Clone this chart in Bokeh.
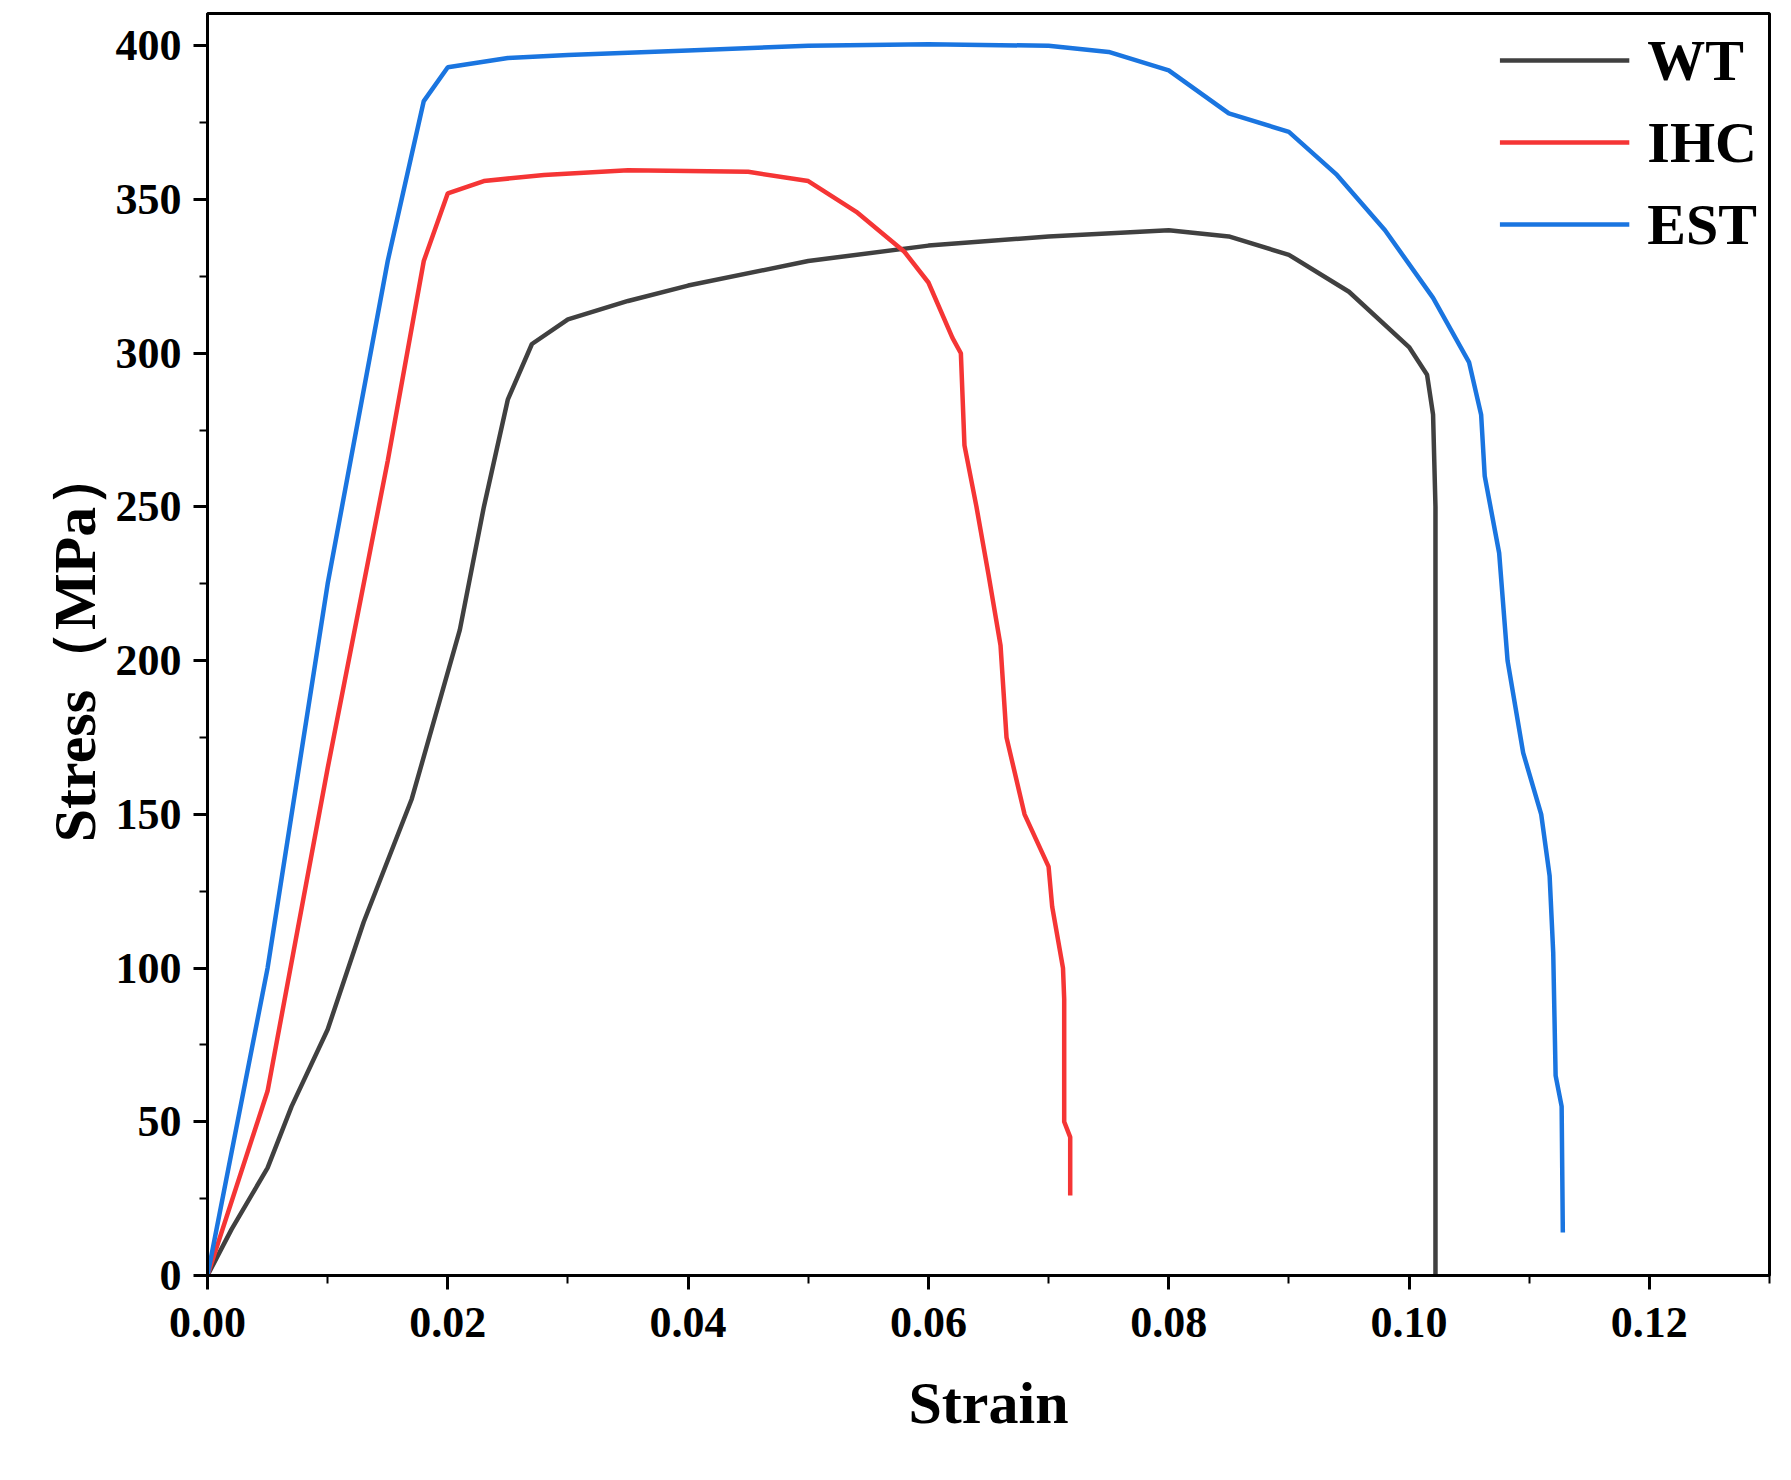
from bokeh.plotting import figure
from bokeh.models import Range1d, Legend, LegendItem, FixedTicker
from bokeh.embed import file_html
from bokeh.resources import INLINE

wt_x = [0,0.002,0.005,0.007,0.01,0.013,0.017,0.021,0.023,0.025,0.027,0.03,0.035,0.04,0.05,0.06,0.07,0.08,0.085,0.09,0.095,0.1,0.1015,0.102,0.1022,0.1022]
wt_y = [0,15,35,55,80,115,155,210,250,285,303,311,317,322,330,335,338,340,338,332,320,302,293,280,250,0]
ihc_x = [0,0.005,0.01,0.015,0.018,0.02,0.023,0.028,0.035,0.045,0.05,0.054,0.058,0.06,0.062,0.0627,0.063,0.064,0.065,0.066,0.0665,0.068,0.07,0.0703,0.0712,0.0713,0.0713,0.0718,0.0718]
ihc_y = [0,60,165,265,330,352,356,358,359.5,359,356,346,333,323,305,300,270,250,228,205,175,150,133,120,100,90,50,45,26]
est_x = [0,0.005,0.01,0.015,0.018,0.02,0.025,0.03,0.04,0.05,0.06,0.07,0.075,0.08,0.085,0.09,0.094,0.098,0.102,0.105,0.106,0.1063,0.1075,0.1082,0.1095,0.111,0.1117,0.112,0.1122,0.1127,0.1128]
est_y = [0,100,225,330,382,393,396,397,398.5,400,400.5,400,398,392,378,372,358,340,318,297,280,260,235,200,170,150,130,105,65,55,14]

F = "Liberation Serif"
p = figure(width=1775, height=1464, output_backend="svg", toolbar_location=None,
           x_range=Range1d(0, 0.13), y_range=Range1d(0, 410.5),
           min_border_left=207, min_border_right=6, min_border_top=13, min_border_bottom=189)
p.grid.visible = False
p.outline_line_color = "black"; p.outline_line_width = 3
r1 = p.line(wt_x, wt_y, line_color="#404040", line_width=4.5)
r2 = p.line(ihc_x, ihc_y, line_color="#f53535", line_width=4.5)
r3 = p.line(est_x, est_y, line_color="#1a75e0", line_width=4.5)

p.xaxis.ticker = FixedTicker(ticks=[0,0.02,0.04,0.06,0.08,0.1,0.12], minor_ticks=[0.01,0.03,0.05,0.07,0.09,0.11,0.13])
p.yaxis.ticker = FixedTicker(ticks=list(range(0,401,50)), minor_ticks=list(range(25,401,50)))
p.xaxis.major_label_overrides = {0: "0.00", 0.02: "0.02", 0.04: "0.04", 0.06: "0.06", 0.08: "0.08", 0.1: "0.10", 0.12: "0.12"}
for ax in (p.xaxis[0], p.yaxis[0]):
    ax.axis_line_width = 3
    ax.major_tick_line_width = 3; ax.minor_tick_line_width = 2
    ax.major_tick_out = 14; ax.major_tick_in = 0
    ax.minor_tick_out = 8; ax.minor_tick_in = 0
    ax.major_label_text_font = F; ax.major_label_text_font_style = "bold"
    ax.major_label_text_font_size = "44px"; ax.major_label_text_color = "black"
    ax.axis_label_text_font = F; ax.axis_label_text_font_style = "bold"
    ax.axis_label_text_font_size = "60px"; ax.axis_label_text_color = "black"
p.xaxis.axis_label = "Strain"
p.yaxis.axis_label = "Stress（MPa）"
p.xaxis.major_label_standoff = 18
p.xaxis.axis_label_standoff = 30
p.yaxis.major_label_standoff = 12

leg = Legend(items=[LegendItem(label="WT", renderers=[r1]), LegendItem(label="IHC", renderers=[r2]), LegendItem(label="EST", renderers=[r3])],
             location="top_right", border_line_color=None, background_fill_alpha=0,
             label_text_font=F, label_text_font_style="bold", label_text_font_size="58px",
             label_text_color="black",
             glyph_width=130, glyph_height=70, spacing=12, label_standoff=18, margin=12)
p.add_layout(leg)

open("out.html", "w").write(file_html(p, INLINE))
